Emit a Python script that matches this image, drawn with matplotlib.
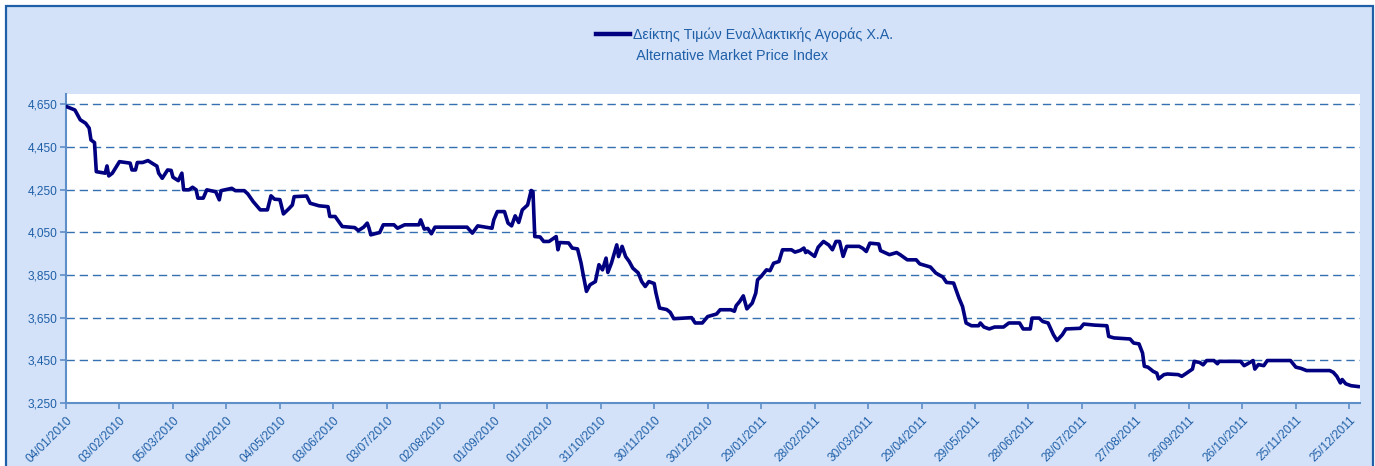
import matplotlib
matplotlib.use("Agg")
import matplotlib.pyplot as plt
from matplotlib.patches import Rectangle
from matplotlib.lines import Line2D
from matplotlib.ticker import FuncFormatter
import pandas as pd

plt.rcParams['font.family'] = ['Liberation Sans', 'DejaVu Sans']

dates = [
    "2010-01-04", "2010-01-09", "2010-01-12", "2010-01-15", "2010-01-17", "2010-01-18", "2010-01-20", "2010-01-21",
    "2010-01-26", "2010-01-27", "2010-01-28", "2010-01-30", "2010-02-03", "2010-02-09", "2010-02-10", "2010-02-12",
    "2010-02-13", "2010-02-16", "2010-02-19", "2010-02-22", "2010-02-24", "2010-02-25", "2010-02-27", "2010-03-02",
    "2010-03-04", "2010-03-05", "2010-03-08", "2010-03-10", "2010-03-11", "2010-03-14", "2010-03-16", "2010-03-18",
    "2010-03-19", "2010-03-22", "2010-03-24", "2010-03-29", "2010-03-31", "2010-04-01", "2010-04-07", "2010-04-09",
    "2010-04-14", "2010-04-16", "2010-04-19", "2010-04-23", "2010-04-27", "2010-04-29", "2010-05-01", "2010-05-04",
    "2010-05-06", "2010-05-09", "2010-05-11", "2010-05-12", "2010-05-19", "2010-05-21", "2010-05-26", "2010-05-31",
    "2010-06-01", "2010-06-04", "2010-06-08", "2010-06-15", "2010-06-17", "2010-06-20", "2010-06-22", "2010-06-23",
    "2010-06-24", "2010-06-29", "2010-07-01", "2010-07-07", "2010-07-09", "2010-07-13", "2010-07-21", "2010-07-22",
    "2010-07-24", "2010-07-26", "2010-07-28", "2010-07-30", "2010-08-17", "2010-08-20", "2010-08-23", "2010-08-31",
    "2010-09-01", "2010-09-03", "2010-09-07", "2010-09-09", "2010-09-11", "2010-09-13", "2010-09-15", "2010-09-17",
    "2010-09-20", "2010-09-22", "2010-09-23", "2010-09-24", "2010-09-27", "2010-09-29", "2010-10-02", "2010-10-06",
    "2010-10-07", "2010-10-08", "2010-10-13", "2010-10-15", "2010-10-18", "2010-10-20", "2010-10-21", "2010-10-23",
    "2010-10-25", "2010-10-28", "2010-10-30", "2010-11-01", "2010-11-03", "2010-11-04", "2010-11-06", "2010-11-09",
    "2010-11-10", "2010-11-12", "2010-11-14", "2010-11-16", "2010-11-18", "2010-11-21", "2010-11-23", "2010-11-25",
    "2010-11-27", "2010-11-30", "2010-12-01", "2010-12-03", "2010-12-07", "2010-12-09", "2010-12-11", "2010-12-21",
    "2010-12-23", "2010-12-27", "2010-12-30", "2011-01-04", "2011-01-06", "2011-01-12", "2011-01-14", "2011-01-15",
    "2011-01-17", "2011-01-19", "2011-01-21", "2011-01-24", "2011-01-26", "2011-01-27", "2011-01-29", "2011-02-01",
    "2011-02-03", "2011-02-05", "2011-02-08", "2011-02-10", "2011-02-15", "2011-02-17", "2011-02-20", "2011-02-22",
    "2011-02-23", "2011-02-24", "2011-02-28", "2011-03-02", "2011-03-05", "2011-03-08", "2011-03-10", "2011-03-12",
    "2011-03-14", "2011-03-16", "2011-03-18", "2011-03-25", "2011-03-27", "2011-03-29", "2011-03-31", "2011-04-05",
    "2011-04-06", "2011-04-11", "2011-04-15", "2011-04-17", "2011-04-21", "2011-04-26", "2011-04-28", "2011-05-04",
    "2011-05-07", "2011-05-11", "2011-05-13", "2011-05-17", "2011-05-20", "2011-05-22", "2011-05-24", "2011-05-27",
    "2011-05-31", "2011-06-01", "2011-06-03", "2011-06-06", "2011-06-09", "2011-06-14", "2011-06-17", "2011-06-23",
    "2011-06-25", "2011-06-29", "2011-06-30", "2011-07-04", "2011-07-06", "2011-07-09", "2011-07-12", "2011-07-14",
    "2011-07-17", "2011-07-19", "2011-07-27", "2011-07-29", "2011-08-04", "2011-08-11", "2011-08-12", "2011-08-15",
    "2011-08-24", "2011-08-26", "2011-08-29", "2011-08-31", "2011-09-01", "2011-09-03", "2011-09-06", "2011-09-08",
    "2011-09-09", "2011-09-12", "2011-09-14", "2011-09-20", "2011-09-22", "2011-09-24", "2011-09-28", "2011-09-29",
    "2011-10-02", "2011-10-04", "2011-10-06", "2011-10-10", "2011-10-12", "2011-10-13", "2011-10-25", "2011-10-27",
    "2011-10-29", "2011-11-01", "2011-11-02", "2011-11-04", "2011-11-07", "2011-11-09", "2011-11-22", "2011-11-25",
    "2011-11-28", "2011-12-01", "2011-12-14", "2011-12-16", "2011-12-18", "2011-12-20", "2011-12-21", "2011-12-23",
    "2011-12-26", "2011-12-30",
]

values = [
    4640, 4623, 4577, 4561, 4538, 4483, 4470, 4334,
    4327, 4361, 4314, 4327, 4381, 4374, 4342, 4342,
    4377, 4377, 4386, 4370, 4360, 4327, 4303, 4342,
    4340, 4308, 4292, 4327, 4249, 4249, 4261, 4249,
    4210, 4210, 4249, 4240, 4202, 4245, 4256, 4245,
    4245, 4230, 4194, 4155, 4155, 4221, 4205, 4203,
    4136, 4160, 4178, 4217, 4220, 4186, 4174, 4170,
    4124, 4124, 4077, 4072, 4058, 4074, 4093, 4070,
    4038, 4049, 4085, 4085, 4069, 4085, 4085, 4108,
    4065, 4068, 4043, 4074, 4074, 4046, 4080, 4069,
    4108, 4147, 4147, 4093, 4080, 4127, 4096, 4155,
    4178, 4246, 4240, 4030, 4028, 4007, 4007, 4030,
    3968, 4002, 4000, 3976, 3972, 3905, 3859, 3773,
    3804, 3819, 3898, 3874, 3929, 3862, 3905, 3991,
    3936, 3984, 3936, 3913, 3882, 3860, 3819, 3796,
    3819, 3810, 3765, 3695, 3688, 3675, 3645, 3650,
    3625, 3625, 3655, 3667, 3687, 3687, 3680, 3706,
    3726, 3752, 3691, 3718, 3765, 3827, 3843, 3874,
    3870, 3905, 3913, 3968, 3968, 3957, 3965, 3976,
    3955, 3962, 3937, 3980, 4007, 3990, 3968, 4007,
    4007, 3937, 3984, 3984, 3975, 3960, 3999, 3995,
    3964, 3945, 3955, 3945, 3921, 3921, 3902, 3887,
    3859, 3840, 3815, 3812, 3742, 3702, 3625, 3612,
    3612, 3625, 3606, 3597, 3606, 3606, 3625, 3625,
    3597, 3597, 3648, 3648, 3632, 3625, 3570, 3543,
    3570, 3597, 3600, 3620, 3615, 3612, 3562, 3555,
    3550, 3531, 3527, 3484, 3422, 3418, 3398, 3390,
    3363, 3383, 3386, 3383, 3375, 3386, 3409, 3445,
    3440, 3429, 3449, 3449, 3434, 3445, 3445, 3425,
    3434, 3449, 3409, 3430, 3425, 3449, 3449, 3418,
    3412, 3402, 3402, 3394, 3375, 3344, 3360, 3340,
    3331, 3327,
]

tick_labels = [
    "04/01/2010", "03/02/2010", "05/03/2010", "04/04/2010", "04/05/2010", "03/06/2010",
    "03/07/2010", "02/08/2010", "01/09/2010", "01/10/2010", "31/10/2010", "30/11/2010",
    "30/12/2010", "29/01/2011", "28/02/2011", "30/03/2011", "29/04/2011", "29/05/2011",
    "28/06/2011", "28/07/2011", "27/08/2011", "26/09/2011", "26/10/2011", "25/11/2011",
    "25/12/2011",
]
y_ticks = [3250, 3450, 3650, 3850, 4050, 4250, 4450, 4650]
series_gr = "Δείκτης Τιμών Εναλλακτικής Αγοράς Χ.Α."
series_en = "Alternative Market Price Index"

W, H = 1375, 466
fig = plt.figure(figsize=(W / 100, H / 100), dpi=100)
fig.patch.set_facecolor("white")

bg = "#D3E2F8"
border = "#1F5FA8"
txt = "#1F5FA8"
axcol = "#5F8FC8"
gridcol = "#3470B2"

fig.patches.append(Rectangle((6 / W, -0.02), (1373 - 6) / W, (H - 6) / H + 0.02,
                             transform=fig.transFigure, facecolor=bg,
                             edgecolor=border, linewidth=1.6, zorder=-10))

ax = fig.add_axes([66 / W, (H - 403) / H, (1360 - 66) / W, (403 - 94) / H])
ax.set_zorder(1)
ax.set_facecolor("white")

x = pd.to_datetime(dates)
ax.plot(x, values, color="#000080", linewidth=2.6, solid_joinstyle="round", zorder=3)

ax.set_ylim(3250, 4698)
ax.set_yticks(y_ticks)
ax.yaxis.set_major_formatter(FuncFormatter(lambda v, p: f"{int(v):,}"))
xt = pd.to_datetime(tick_labels, format="%d/%m/%Y")
ax.set_xlim(pd.Timestamp("2010-01-04"), pd.Timestamp("2011-12-31"))
ax.set_xticks(xt)
ax.set_xticklabels(tick_labels, rotation=45, ha="right", rotation_mode="anchor")

ax.grid(axis="y", color=gridcol, linestyle=(0, (6, 3.5)), linewidth=1.0, zorder=1)
ax.grid(axis="x", visible=False)
for s in ["top", "right"]:
    ax.spines[s].set_visible(False)
for s in ["left", "bottom"]:
    ax.spines[s].set_color(axcol)
    ax.spines[s].set_linewidth(1.5)
ax.tick_params(axis="both", colors=axcol, labelcolor=txt, labelsize=8.6, length=4, width=1.2, direction="out")
ax.tick_params(axis="x", pad=4)
ax.tick_params(axis="y", pad=2)

handles = [Line2D([], [], color="#000080", linewidth=3.2), Line2D([], [], color="none")]
leg = fig.legend(handles, [series_gr, " " + series_en], loc="upper left",
                 bbox_to_anchor=(596 / W, 1 - 28 / H), frameon=False,
                 fontsize=10.3, handlelength=2.35, handletextpad=0.25,
                 labelspacing=0.45, borderpad=0, borderaxespad=0)
for t in leg.get_texts():
    t.set_color(txt)

fig.savefig("out.png", dpi=100, facecolor=fig.get_facecolor())
